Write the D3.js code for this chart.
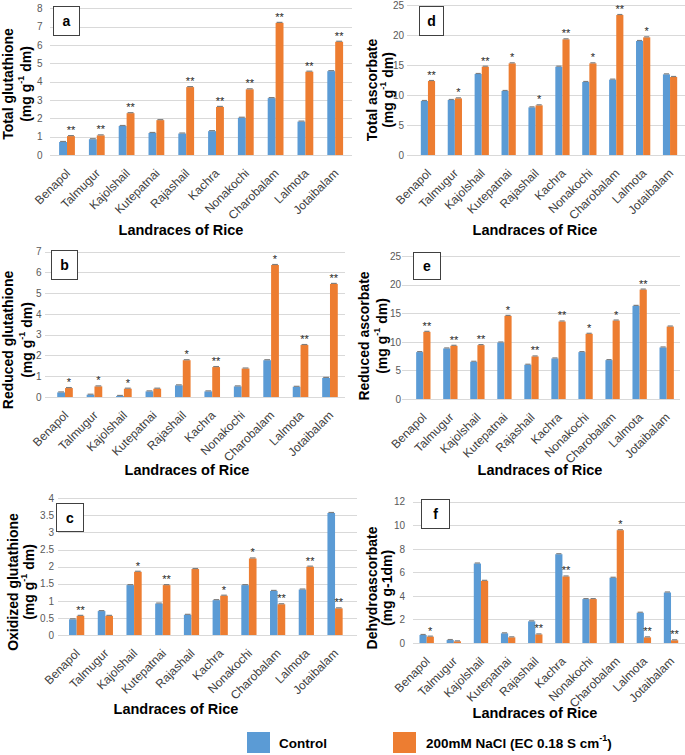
<!DOCTYPE html>
<html><head><meta charset="utf-8">
<script src="https://cdn.jsdelivr.net/npm/d3@7/dist/d3.min.js"></script>
<style>body{margin:0;background:#fff}svg{display:block}text{font-family:"Liberation Sans",Arial,sans-serif}</style>
</head><body>
<svg id="chart" width="685" height="755"></svg>
<script>
const categories = ["Benapol","Talmugur","Kajolshail","Kutepatnai","Rajashail","Kachra","Nonakochi","Charobalam","Lalmota","Jotaibalam"];
const seriesNames = ["Control","200mM NaCl (EC 0.18 S cm\u207B\u00B9)"];

// a: Total glutathione
const totalGshControl = [0.71,0.86,1.58,1.2,1.17,1.3,2.03,3.1,1.82,4.57];
const totalGshNaCl    = [1.03,1.07,2.28,1.9,3.7,2.62,3.58,7.2,4.54,6.17];
const totalGshSig     = ["**","**","**","","**","**","**","**","**","**"];
const totalGshTicks   = [0,1,2,3,4,5,6,7,8];

// b: Reduced glutathione
const redGshControl = [0.22,0.11,0.05,0.27,0.56,0.27,0.51,1.77,0.49,0.92];
const redGshNaCl    = [0.43,0.51,0.4,0.4,1.77,1.44,1.37,6.35,2.5,5.44];
const redGshSig     = ["*","*","*","","*","**","","*","**","**"];
const redGshTicks   = [0,1,2,3,4,5,6,7];

// c: Oxidized glutathione
const oxGshControl = [0.46,0.7,1.46,0.92,0.59,1.02,1.46,1.29,1.33,3.57];
const oxGshNaCl    = [0.56,0.56,1.85,1.46,1.93,1.15,2.24,0.9,2.0,0.78];
const oxGshSig     = ["**","","*","**","","*","*","**","**","**"];
const oxGshTicks   = [0,0.5,1,1.5,2,2.5,3,3.5,4];

// d: Total ascorbate
const totalAscControl = [9.0,9.17,13.5,10.67,7.94,14.72,12.17,12.56,19.0,13.44];
const totalAscNaCl    = [12.33,9.44,14.72,15.28,8.28,19.28,15.28,23.33,19.61,13.0];
const totalAscSig     = ["**","*","**","*","*","**","*","**","*",""];
const totalAscTicks   = [0,5,10,15,20,25];

// e: Reduced ascorbate
const redAscControl = [8.2,8.84,6.51,9.88,5.99,7.09,8.2,6.8,16.28,9.01];
const redAscNaCl    = [11.74,9.3,9.42,14.53,7.44,13.55,11.4,13.72,19.13,12.67];
const redAscSig     = ["**","**","**","*","**","**","*","*","**",""];
const redAscTicks   = [0,5,10,15,20,25];

// f: Dehydroascorbate
const dhaControl = [0.68,0.25,6.75,0.82,1.84,7.54,3.73,5.54,2.57,4.29];
const dhaNaCl    = [0.54,0.14,5.28,0.48,0.73,5.65,3.73,9.58,0.48,0.23];
const dhaSig     = ["*","","","","**","**","","*","**","**"];
const dhaTicks   = [0,2,4,6,8,10,12];

const colors = ["#5B9BD5","#ED7D31"];

const panels = [
  {id:"a", t1:"Total glutathione", t2:"sup", c:totalGshControl, n:totalGshNaCl, s:totalGshSig, ticks:totalGshTicks,
   x0:52.1, x1:350.1, y0:155, yTop:8.2, gx0:50, gx1:352, tx:42.5, l1:8, l2:26, ty:84, xtX:181, xtY:235, box:[53,6,26,29]},
  {id:"b", t1:"Reduced glutathione", t2:"sup", c:redGshControl, n:redGshNaCl, s:redGshSig, ticks:redGshTicks,
   x0:50.3, x1:344.7, y0:397, yTop:251.5, gx0:45, gx1:345, tx:41.5, l1:8, l2:27, ty:340, xtX:187, xtY:475, box:[51,250,26,29]},
  {id:"c", t1:"Oxidized glutathione", t2:"sup", c:oxGshControl, n:oxGshNaCl, s:oxGshSig, ticks:oxGshTicks,
   x0:62.3, x1:349.4, y0:635, yTop:498.3, gx0:58, gx1:357, tx:54, l1:13, l2:29, ty:582, xtX:176, xtY:714, box:[56,503,27,28]},
  {id:"d", t1:"Total ascorbate", t2:"sup", c:totalAscControl, n:totalAscNaCl, s:totalAscSig, ticks:totalAscTicks,
   x0:414.5, x1:683.5, y0:155, yTop:5, gx0:407, gx1:685, tx:404, l1:372, l2:388, ty:90, xtX:535, xtY:235, box:[419,6,24,29]},
  {id:"e", t1:"Reduced ascorbate", t2:"sup", c:redAscControl, n:redAscNaCl, s:redAscSig, ticks:redAscTicks,
   x0:409.8, x1:680.2, y0:399, yTop:256, gx0:402, gx1:680, tx:401, l1:364, l2:382, ty:336, xtX:540, xtY:475, box:[413,252,27,27]},
  {id:"f", t1:"Dehydroascorbate", t2:"plain", c:dhaControl, n:dhaNaCl, s:dhaSig, ticks:dhaTicks,
   x0:413.1, x1:684.6, y0:643, yTop:501.7, gx0:413, gx1:685, tx:405, l1:372, l2:387, ty:588, xtX:535, xtY:718, box:[421,499,28,29]}
];

const svg = d3.select("#chart");

panels.forEach(p => {
  const g = svg.append("g");
  const yMax = p.ticks[p.ticks.length-1];
  const y = d3.scaleLinear().domain([0, yMax]).range([p.y0, p.yTop]);
  const x = d3.scaleBand().domain(categories).range([p.x0, p.x1]).paddingInner(0.47).paddingOuter(0.235);
  const xs = d3.scaleBand().domain([0,1]).range([0, x.bandwidth()]);

  // gridlines
  g.selectAll("line.grid").data(p.ticks).join("line")
    .attr("x1", p.gx0).attr("x2", p.gx1)
    .attr("y1", d => Math.round(y(d))+0.5).attr("y2", d => Math.round(y(d))+0.5)
    .attr("stroke", "#d9d9d9").attr("stroke-width", 1);

  // y axis tick labels via d3 axis
  const yAxis = d3.axisLeft(y).tickValues(p.ticks).tickSize(0).tickPadding(0).tickFormat(d3.format("~g"));
  const ya = g.append("g").attr("transform", `translate(${p.tx},0)`).call(yAxis);
  ya.select(".domain").remove();
  ya.selectAll("text").attr("font-size", 10).attr("fill", "#595959").attr("font-family", "Liberation Sans, Arial, sans-serif");

  // bars
  const rows = categories.map((cat,i) => ({cat, vals:[p.c[i], p.n[i]], sig:p.s[i]}));
  const cg = g.selectAll("g.cat").data(rows).join("g").attr("transform", d => `translate(${x(d.cat)},0)`);
  cg.selectAll("rect").data(d => d.vals.map((v,k)=>({v,k}))).join("rect")
    .attr("x", d => xs(d.k)).attr("width", xs.bandwidth())
    .attr("y", d => y(d.v)).attr("height", d => p.y0 - y(d.v))
    .attr("fill", d => colors[d.k]);
  // error caps
  cg.selectAll("line.cap").data(d => d.vals.map((v,k)=>({v,k}))).join("line")
    .attr("x1", d => xs(d.k)+1).attr("x2", d => xs(d.k)+xs.bandwidth()-1)
    .attr("y1", d => y(d.v)-0.5).attr("y2", d => y(d.v)-0.5)
    .attr("stroke", "#7f7f7f").attr("stroke-width", 1.2);
  // significance
  cg.append("text")
    .attr("x", xs(1) + xs.bandwidth()/2)
    .attr("y", d => y(d.vals[1]) - 2)
    .attr("text-anchor", "middle").attr("font-size", 11).attr("fill", "#262626")
    .text(d => d.sig);

  // category labels
  const xAxis = d3.axisBottom(x).tickSize(0).tickPadding(0);
  const xa = g.append("g").attr("transform", `translate(0,${p.y0})`).call(xAxis);
  xa.select(".domain").remove();
  xa.selectAll("text")
    .attr("font-size", 12).attr("fill", "#404040").attr("font-family", "Liberation Sans, Arial, sans-serif")
    .attr("text-anchor", "end").attr("dy", null).attr("y", 0).attr("x", 0)
    .attr("transform", "translate(4,19) rotate(-45)");

  // x title
  g.append("text").attr("x", p.xtX).attr("y", p.xtY).attr("text-anchor", "middle")
    .attr("font-size", 14.5).attr("font-weight", "bold").attr("fill", "#000").text("Landraces of Rice");

  // y titles
  g.append("text").attr("transform", `translate(${p.l1},${p.ty}) rotate(-90)`)
    .attr("text-anchor", "middle").attr("dominant-baseline", "central")
    .attr("font-size", 14).attr("font-weight", "bold").text(p.t1);
  const t2 = g.append("text").attr("transform", `translate(${p.l2},${p.ty}) rotate(-90)`)
    .attr("text-anchor", "middle").attr("dominant-baseline", "central")
    .attr("font-size", 14).attr("font-weight", "bold");
  if (p.t2 === "sup") {
    t2.append("tspan").text("(mg g");
    t2.append("tspan").attr("font-size", 9).attr("dy", -5).text("-1");
    t2.append("tspan").attr("dy", 5).text(" dm)");
  } else {
    t2.text("(mg g-1dm)");
  }

  // panel label box
  const [bx,by,bw,bh] = p.box;
  g.append("rect").attr("x", bx+0.5).attr("y", by+0.5).attr("width", bw).attr("height", bh)
    .attr("fill", "#fff").attr("stroke", "#404040").attr("stroke-width", 1);
  g.append("text").attr("x", bx+bw/2+0.5).attr("y", by+bh/2+0.5).attr("text-anchor", "middle")
    .attr("dominant-baseline", "central").attr("font-size", 14).attr("font-weight", "bold").text(p.id);
});

// legend
const leg = svg.append("g");
const legX = [247, 393];
seriesNames.forEach((nm,k) => {
  leg.append("rect").attr("x", legX[k]).attr("y", 732).attr("width", 23).attr("height", 21).attr("fill", colors[k]);
});
leg.append("text").attr("x", 279).attr("y", 743).attr("dominant-baseline", "central")
  .attr("font-size", 13.5).attr("font-weight", "bold").text(seriesNames[0]);
const lt = leg.append("text").attr("x", 426).attr("y", 743).attr("dominant-baseline", "central")
  .attr("font-size", 13.5).attr("font-weight", "bold");
lt.append("tspan").text("200mM NaCl (EC 0.18 S cm");
lt.append("tspan").attr("font-size", 9).attr("dy", -5).text("-1");
lt.append("tspan").attr("dy", 5).text(")");
</script>
</body></html>
